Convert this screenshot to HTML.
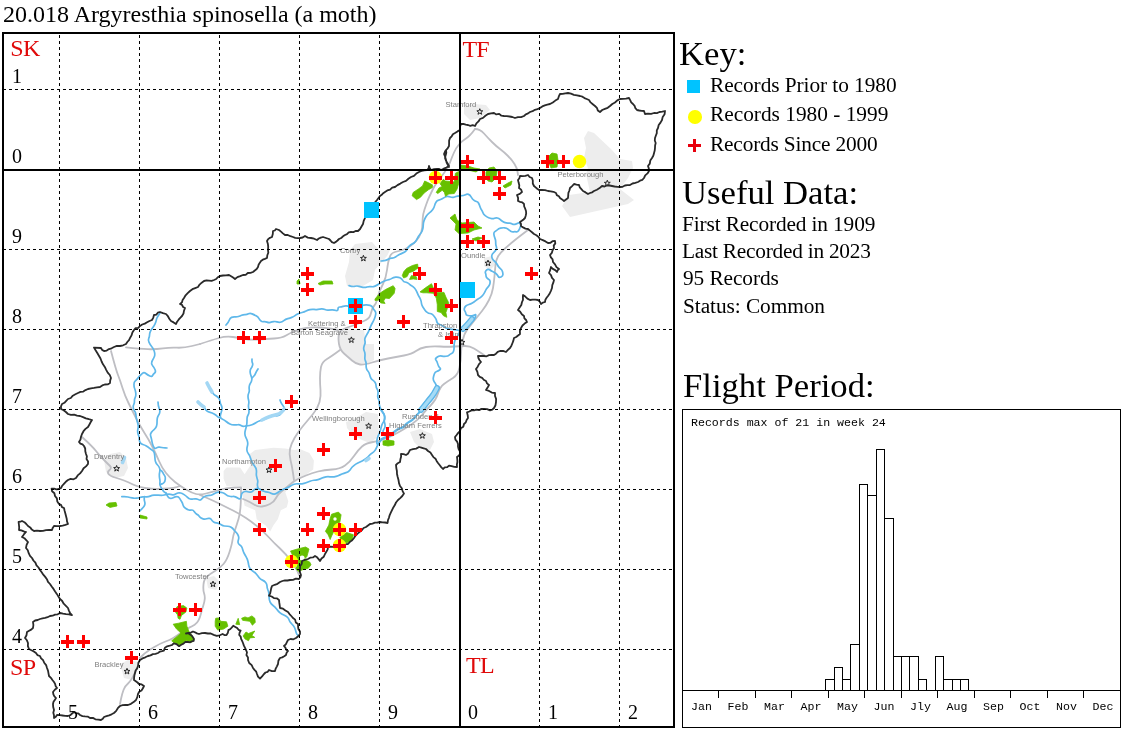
<!DOCTYPE html>
<html><head><meta charset="utf-8"><title>20.018 Argyresthia spinosella</title>
<style>
html,body{margin:0;padding:0;background:#fff;}
body{width:1125px;height:731px;position:relative;overflow:hidden;font-family:"Liberation Serif",serif;color:#000;}
.t{position:absolute;white-space:nowrap;line-height:1;will-change:transform;}
svg{position:absolute;left:0;top:0;will-change:transform;}
.b{fill:none;stroke:#2a2a2a;stroke-width:1.8;stroke-linejoin:round;stroke-linecap:round}
.rv{fill:none;stroke:#5fb8ea;stroke-width:1.7;stroke-linejoin:round;stroke-linecap:round}
.lk{fill:none;stroke:#a3d7f4;stroke-width:3.6;stroke-linejoin:round;stroke-linecap:round}
.lko{fill:none;stroke:#5cb6e8;stroke-width:6;stroke-linejoin:round;stroke-linecap:round}
.lki{fill:none;stroke:#a5dbf6;stroke-width:3.2;stroke-linejoin:round;stroke-linecap:round}
.rd{fill:none;stroke:#bebec3;stroke-width:1.8;stroke-linejoin:round;stroke-linecap:round}
.u{fill:#ededed;stroke:none}
.w{fill:#66c000;stroke:#66c000;stroke-width:0.8;stroke-linejoin:round}
.gd{fill:none;stroke:#000;stroke-width:1;stroke-dasharray:3 3}
.tl{font-family:"Liberation Sans",sans-serif;font-size:7.6px;fill:#7e7e7e}
.st{fill:#e4e4e4;stroke:#262626;stroke-width:1}
.rl{font-family:"Liberation Serif",serif;font-size:24px;fill:#e00a0a;letter-spacing:-0.7px}
.nl{font-family:"Liberation Serif",serif;font-size:20px;fill:#000}
.mo{font-family:"Liberation Mono",monospace;font-size:11.6px;fill:#000}
</style></head><body>
<svg width="1125" height="731" viewBox="0 0 1125 731">
<path class="u" d="M588 131 L594 133 L612 150 L620 159 L632 161 L633 168 L628 178 L622 186 L620 189 L634 200 L628 204 L570 217 L562 206 L569 195 L590 192 L586 174 L588 168 L584 158 L586 148 L584 138Z"/>
<path class="u" d="M464 106 L474 104 L486 105 L490 110 L480 118 L470 120 L464 114Z"/>
<path class="u" d="M355 244 L372 242 L379 250 L391 248 L387 256 L375 270 L373 280 L363 286 L347 286 L345 276 L349 262 L350 250Z"/>
<path class="u" d="M338 330 L348 328 L364 330 L366 344 L374 344 L374 360 L366 364 L356 364 L348 356 L340 350Z"/>
<path class="u" d="M346 422 L352 420 L366 412 L378 414 L379 436 L370 443 L362 440 L352 434 L347 428Z"/>
<path class="u" d="M410 432 L420 429 L432 434 L434 442 L430 450 L420 448 L414 442Z"/>
<path class="u" d="M223.6 471.1 L226.6 467.4 L240.1 467.4 L244.6 474.2 L250.7 465.1 L249.2 454.6 L255.2 450.1 L273.3 447.8 L285.3 448.6 L294.3 450.1 L300.4 449.3 L309.4 453.1 L313.9 460.6 L313.2 469.6 L300.4 478.7 L291.3 484.7 L285.3 492.2 L288.3 501.3 L286.8 507.3 L280.8 510.3 L277.8 519.3 L273.3 525.4 L270.2 531.4 L265.7 525.4 L256.7 519.3 L255.2 510.3 L244.6 505.8 L243.1 498.3 L242.4 487 L226.6 486.2 L223.6 478.7Z"/>
<path class="u" d="M104 460 L110 454 L120 452 L126 458 L128 468 L124 476 L114 478 L106 472Z"/>
<path class="u" d="M120 664 L128 660 L138 662 L137 672 L132 680 L124 678Z"/>
<path class="u" d="M206 578 L214 576 L220 582 L216 590 L208 588Z"/>
<path class="u" d="M484 258 L492 256 L496 264 L490 270 L484 266Z"/>
<path class="rd" d="M434 187 Q429 197 427.5 201 Q426 205 424.5 209.5 Q423 214 422.75 218 Q422.5 222 422.25 227 Q422 232 419 237 Q416 242 411 245.5 Q406 249 402.5 250 Q399 251 395 252 Q391 253 389.5 257.5 Q388 262 387 270 Q386 278 383 284 Q380 290 379 293 Q378 296 377 300 Q376 304 374 306 Q372 308 371 313 Q370 318 366 320 Q362 322 357 324 Q352 326 346 328 Q340 330 339 334 Q338 338 339 344 Q340 350 344 353.5 Q348 357 352 360.5 Q356 364 360 364.5 Q364 365 372 362.5 Q380 360 388 358.5 Q396 357 404 355.5 Q412 354 416 351 Q420 348 426 347 Q432 346 440 346.5 Q448 347 454 346.5 Q460 346 465 346 Q470 346 474 348.5 Q478 351 481 353 L484 355"/>
<path class="rd" d="M475 129 Q480 129 484 133.5 Q488 138 492 142 Q496 146 500 149 Q504 152 508 156 Q512 160 514.5 164 Q517 168 517.5 171.5 L518 175"/>
<path class="rd" d="M475 129 Q470 136 466 138.5 Q462 141 459 144.5 Q456 148 454 152.5 Q452 157 450 162.5 Q448 168 444 173 Q440 178 437 182.5 L434 187"/>
<path class="rd" d="M528 230 Q520 236 515 240 Q510 244 505 248.5 Q500 253 498 256.5 Q496 260 495.5 265 Q495 270 494.5 276 Q494 282 493 288 Q492 294 489 300 Q486 306 482 311 Q478 316 474 321 Q470 326 467 330 Q464 334 462.5 341 Q461 348 461 354 Q461 360 459.5 367.5 Q458 375 453 378 Q448 381 444 384 Q440 387 438 393.5 Q436 400 431 405 Q426 410 422 415 Q418 420 412 424 Q406 428 399 432 Q392 436 386 438.5 Q380 441 373 442 Q366 443 362 446.5 Q358 450 354 456 Q350 462 345 465.5 Q340 469 332 469.5 Q324 470 318 471.5 Q312 473 306 475.5 Q300 478 297 479.5 Q294 481 290 484.5 Q286 488 282 491 Q278 494 276 498 Q274 502 270 504 Q266 506 262 506.5 Q258 507 254 504.5 Q250 502 246.5 500.5 L243 499"/>
<path class="rd" d="M200 344 Q212 340 219 338 Q226 336 233 337 Q240 338 245 339 Q250 340 258 339.5 Q266 339 274 338.5 Q282 338 286 335.5 Q290 333 295 331 Q300 329 306 328 Q312 327 320 327.5 Q328 328 333 329 L338 330"/>
<path class="rd" d="M340 350 Q332 356 327 359 Q322 362 321 367 Q320 372 320 378 Q320 384 320.5 390 Q321 396 319.5 402 Q318 408 313 414 Q308 420 303 426 Q298 432 294.5 438 Q291 444 290 449 Q289 454 290.5 460 Q292 466 293 473 L294 480"/>
<path class="rd" d="M126 347.4 Q140 349 148 349.2 Q156 349.4 163 348.4 Q170 347.4 177 347.7 Q184 348 192 346 L200 344"/>
<path class="rd" d="M111 351 Q116 370 118 375 Q120 380 122.5 388 Q125 396 128.5 403 Q132 410 136 418 Q140 426 144.5 433 Q149 440 152.5 447 Q156 454 159 461 Q162 468 166 473 Q170 478 175 482 Q180 486 186 489.5 Q192 493 196 494 Q200 495 206 493.5 Q212 492 219 490 Q226 488 233.5 487.7 L241 487.4"/>
<path class="rd" d="M200 495 Q212 500 219 503.5 Q226 507 233 510.5 Q240 514 246 518 Q252 522 258 527 Q264 532 269 537.5 Q274 543 280 548.5 Q286 554 291 561 Q296 568 297.5 571.5 L299 575"/>
<path class="rd" d="M241 488 Q241 500 240.5 507 Q240 514 238.5 519 Q237 524 235 530 Q233 536 232.5 540 Q232 544 229.5 552 Q227 560 223.5 564 Q220 568 215 571 Q210 574 207 576.5 Q204 579 203.5 584.5 Q203 590 204 593 Q205 596 204.75 599 Q204.5 602 203.25 605.75 Q202 609.5 201 613.45 Q200 617.4 198.5 620.3 Q197 623.2 194.65 624.7 Q192.3 626.2 189.15 627.6 Q186 629 181.3 632.5 Q176.6 636 173.2 638 Q169.8 640 164.9 641.75 Q160 643.5 153 647.75 Q146 652 143 655 L140 658"/>
<path class="rd" d="M82 437 Q92 446 96 451 Q100 456 104 460 Q108 464 110 466 Q112 468 109.5 470 Q107 472 108.5 474 Q110 476 115 477.5 Q120 479 124 480.5 Q128 482 133 484.5 Q138 487 145 488 Q152 489 157 489 Q162 489 168 488.5 Q174 488 177 487 L180 486"/>
<path class="rd" d="M138 666 Q132 680 128.5 683 Q125 686 123.5 690 Q122 694 121 699 L120 704"/>
<path class="rv" d="M460 195.8 Q457.2 195.9 455.95 196.55 Q454.7 197.2 453.25 197.35 Q451.8 197.5 450.4 197 Q449 196.5 447.6 196.45 Q446.2 196.4 445 197.15 Q443.8 197.9 442.2 198.85 Q440.6 199.8 438.8 200.2 Q437 200.6 436 202.2 Q435 203.8 434.6 205.65 Q434.2 207.5 432.75 209.45 Q431.3 211.4 429.35 212.85 Q427.4 214.3 426.2 216.25 Q425 218.2 424.15 220.35 Q423.3 222.5 423.25 224.95 Q423.2 227.4 422.55 229.75 Q421.9 232.1 420.25 233.95 Q418.6 235.8 417.5 238.05 Q416.4 240.3 415.3 241.75 Q414.2 243.2 412.45 243.9 Q410.7 244.6 409.45 245.85 Q408.2 247.1 407.6 248.45 Q407 249.8 406 250.9 Q405 252 402.9 252.85 Q400.8 253.7 398.9 254.85 Q397 256 395.5 257.05 Q394 258.1 392.05 258.05 Q390.1 258 388.55 259 Q387 260 385.55 260.4 Q384.1 260.8 382.55 260.9 L381 261"/>
<path class="rv" d="M349 285.6 Q352.9 286.9 355 286.3 Q357.1 285.7 359.05 286.35 Q361 287 363 287.35 Q365 287.7 367 287 Q369 286.3 371 286.65 Q373 287 375 286.1 Q377 285.2 378.85 284 Q380.7 282.8 382.35 281.95 Q384 281.1 385.75 280.5 Q387.5 279.9 389.05 279.6 Q390.6 279.3 391.9 278.4 Q393.2 277.5 395.6 277.15 Q398 276.8 399.9 277.85 Q401.8 278.9 402.75 280.35 Q403.7 281.8 404.95 282 Q406.2 282.2 407.35 282.75 Q408.5 283.3 409.6 284.3 Q410.7 285.3 412 285.95 Q413.3 286.6 414.45 287.95 Q415.6 289.3 416.35 290.85 Q417.1 292.4 417.7 293.9 Q418.3 295.4 419.15 296.75 Q420 298.1 420.65 299.7 Q421.3 301.3 421.4 303.05 Q421.5 304.8 422.7 306.7 Q423.9 308.6 424.85 310 Q425.8 311.4 427.2 312.4 Q428.6 313.4 429.95 313.5 Q431.3 313.6 432.35 314.45 Q433.4 315.3 434.85 317.25 Q436.3 319.2 436.5 320.5 Q436.7 321.8 437.45 322.9 Q438.2 324 439.8 324.45 Q441.4 324.9 442.7 325.95 Q444 327 445.9 327.9 Q447.8 328.8 449.9 329.15 Q452 329.5 454.05 329.55 Q456.1 329.6 458.05 330.3 L460 331"/>
<path class="rv" d="M460 195.8 Q464 195.5 465.5 194.65 Q467 193.8 468.5 194.4 Q470 195 471.25 197.1 Q472.5 199.2 473.75 200.15 Q475 201.1 476.5 201.55 Q478 202 478.75 203.5 Q479.5 205 480.1 206.9 Q480.7 208.8 481.6 210.05 Q482.5 211.3 482.95 212.8 Q483.4 214.3 485.2 215.65 Q487 217 488.65 217.7 Q490.3 218.4 491.75 218.65 Q493.2 218.9 494.5 218.3 Q495.8 217.7 497.35 218 Q498.9 218.3 500.05 219.4 Q501.2 220.5 502.75 221.55 Q504.3 222.6 506.15 222.9 Q508 223.2 509.45 223.2 Q510.9 223.2 512.2 223.9 Q513.5 224.6 514.95 224.3 Q516.4 224 517.7 223.25 Q519 222.5 520 223.75 Q521 225 520.7 225.8 Q520.4 226.6 519.9 228.05 Q519.4 229.5 518.5 230.8 Q517.6 232.1 516.25 231.85 Q514.9 231.6 513.55 231.85 Q512.2 232.1 510.7 231.2 Q509.2 230.3 507.95 229.15 Q506.7 228 504.6 227.8 Q502.5 227.6 500.5 228.15 Q498.5 228.7 497.45 229.75 Q496.4 230.8 495.05 231.45 Q493.7 232.1 493.85 234.05 Q494 236 494.9 238.15 Q495.8 240.3 495.7 242.4 Q495.6 244.5 496.3 246.5 Q497 248.5 495.95 250.05 Q494.9 251.6 493.45 252.8 Q492 254 491.8 255.55 Q491.6 257.1 492.3 258.55 Q493 260 494.55 261.25 Q496.1 262.5 497.05 264.25 Q498 266 498.9 267.1 Q499.8 268.2 500.9 269.1 Q502 270 502.45 271.45 Q502.9 272.9 502.95 274.45 Q503 276 501 277 Q499 278 498.1 276.25 Q497.2 274.5 495.6 273.25 Q494 272 492.6 271.5 Q491.2 271 490.1 270 Q489 269 487.75 269.4 Q486.5 269.8 485.75 270.9 Q485 272 485.5 273.2 Q486 274.4 486 275.7 Q486 277 486.9 277.9 Q487.8 278.8 488.9 279.4 Q490 280 490.1 281.55 Q490.2 283.1 489.6 284.55 Q489 286 487.7 287.3 Q486.4 288.6 485.7 290.3 Q485 292 483.95 293.65 Q482.9 295.3 481.45 296.65 Q480 298 478.4 298.85 Q476.8 299.7 475.4 300.85 Q474 302 472.35 303 Q470.7 304 468.85 304.5 Q467 305 465.85 306 Q464.7 307 464.35 308.5 Q464 310 464.85 311.1 Q465.7 312.2 465.85 313.6 Q466 315 467.7 315.45 Q469.4 315.9 471.2 315.95 Q473 316 474.5 315 Q476 314 475.7 315.55 Q475.4 317.1 474.7 318.55 Q474 320 472.4 320.6 Q470.8 321.2 469.4 322.1 Q468 323 467.15 324.35 Q466.3 325.7 465.15 326.85 Q464 328 462.75 328.45 Q461.5 328.9 460.75 329.95 Q460 331 459.2 332.85 Q458.4 334.7 457.2 336.35 Q456 338 455.2 339.9 Q454.4 341.8 454.2 343.9 Q454 346 454.05 347.8 Q454.1 349.6 453.55 351.3 Q453 353 451.65 353.55 Q450.3 354.1 449.15 355.05 Q448 356 446 356.25 Q444 356.5 442 356.05 Q440 355.6 438.65 356.3 Q437.3 357 436.15 358 Q435 359 436.05 360.35 Q437.1 361.7 437.55 363.35 Q438 365 438.6 366.1 Q439.2 367.2 440.1 368.1 Q441 369 439.6 370 Q438.2 371 436.6 371.5 Q435 372 434.3 373.95 Q433.6 375.9 433.3 377.95 Q433 380 434.2 381.65 Q435.4 383.3 436.2 385.15 Q437 387 435.85 388.6 Q434.7 390.2 434.35 392.1 Q434 394 432.8 395.8 Q431.6 397.6 429.8 398.8 Q428 400 426.55 401.35 Q425.1 402.7 424.05 404.35 Q423 406 422.1 408.2 Q421.2 410.4 419.6 412.2 Q418 414 416.5 415.2 Q415 416.4 414 418.05 Q413 419.7 411.5 420.85 Q410 422 408.1 422.65 Q406.2 423.3 404.95 424.95 Q403.7 426.6 401.85 427.3 Q400 428 397.9 429.1 Q395.8 430.2 393.9 431.6 Q392 433 390.25 434.65 Q388.5 436.3 386.25 437.15 Q384 438 382.35 439.35 Q380.7 440.7 379.35 442.35 Q378 444 377.2 446.1 Q376.4 448.2 375.2 450.1 Q374 452 372.25 452.95 Q370.5 453.9 369.25 455.45 Q368 457 366.15 458.45 Q364.3 459.9 362.15 460.95 Q360 462 357.85 463.05 Q355.7 464.1 353.85 465.55 Q352 467 351.15 468.35 Q350.3 469.7 349.15 470.85 Q348 472 345.95 472.6 Q343.9 473.2 341.95 474.1 Q340 475 338.1 475.8 Q336.2 476.6 334.1 476.8 Q332 477 330 476.8 Q328 476.6 326 476.8 Q324 477 322.1 478.05 Q320.2 479.1 318.1 479.55 Q316 480 313.95 480.25 Q311.9 480.5 309.95 481.25 Q308 482 306.05 482.8 Q304.1 483.6 302.05 483.8 Q300 484 297.95 483.8 Q295.9 483.6 293.95 484.3 Q292 485 290.15 486.25 Q288.3 487.5 286.15 488.25 Q284 489 281.85 490 Q279.7 491 277.85 492.5 Q276 494 274.25 494.05 Q272.5 494.1 270.95 493.2 Q269.4 492.3 267.7 492.15 Q266 492 263.9 491.2 Q261.8 490.4 259.9 489.2 Q258 488 256.25 488.6 Q254.5 489.2 253.25 490.55 Q252 491.9 250.55 492.1 Q249.1 492.3 247.75 491.75 Q246.4 491.2 245.1 491.5 Q243.8 491.8 242.7 492.55 Q241.6 493.3 241.45 494.85 Q241.3 496.4 240.75 497.9 Q240.2 499.4 238.5 498.4 Q236.8 497.4 235.45 496.85 Q234.1 496.3 232.7 496.5 Q231.3 496.7 229.4 496.25 Q227.5 495.8 226 494.55 Q224.5 493.3 222.8 492.75 Q221.1 492.2 219.35 492.05 Q217.6 491.9 215.55 492.95 Q213.5 494 212.25 494.75 Q211 495.5 209.5 495.4 Q208 495.3 205.65 496 Q203.3 496.7 201.9 498.75 Q200.5 500.8 199.1 499.9 Q197.7 499 196.05 498.85 Q194.4 498.7 193.05 499.05 Q191.7 499.4 190.3 499.05 Q188.9 498.7 187.55 497.35 Q186.2 496 184.1 494.65 Q182 493.3 180.65 493 Q179.3 492.7 177.95 493 Q176.6 493.3 175.2 494.3 Q173.8 495.3 171.75 494.65 Q169.7 494 167.65 494.3 Q165.6 494.6 164.25 494.95 Q162.9 495.3 161.55 495.3 Q160.2 495.3 158.15 495.15 Q156.1 495 154.05 495.15 Q152 495.3 150.2 496.1 Q148.4 496.9 146.4 496.8 Q144.4 496.7 142.85 496.8 Q141.3 496.9 139.8 497.45 Q138.3 498 136.2 498.2 Q134.1 498.4 132.05 497.9 Q130 497.4 127.95 497 Q125.9 496.6 123.85 496.65 L121.8 496.7"/>
<path class="rv" d="M226 325 Q228.7 321.9 229.35 319.95 Q230 318 231.6 317.35 Q233.2 316.7 235 316.9 Q236.8 317.1 238.4 316.55 Q240 316 241.6 315.3 Q243.2 314.6 245.05 314.65 Q246.9 314.7 248.45 313.85 Q250 313 252.1 313.85 Q254.2 314.7 256.1 315.85 Q258 317 258.85 318.4 Q259.7 319.8 260.85 320.9 Q262 322 263.65 321.7 Q265.3 321.4 267 322.1 Q268.7 322.8 270.35 322.4 Q272 322 273.65 321.65 Q275.3 321.3 277 321.9 Q278.7 322.5 280.35 322.25 Q282 322 283.8 320.6 Q285.6 319.2 287.8 318.6 Q290 318 291.75 317.35 Q293.5 316.7 295 315.55 Q296.5 314.4 298.25 313.7 Q300 313 302.1 312.45 Q304.2 311.9 306.1 310.95 Q308 310 310 309.55 Q312 309.1 314 309.4 Q316 309.7 318 309.35 Q320 309 321.7 308.95 Q323.4 308.9 325 309.55 Q326.6 310.2 328.3 310.1 Q330 310 332.05 309.95 Q334.1 309.9 336.05 310.45 Q338 311 338 309 Q338 307 339.7 307 Q341.4 307 343 306.4 Q344.6 305.8 346.3 305.9 Q348 306 350.05 306.3 Q352.1 306.6 354 305.6 Q355.9 304.6 357.95 305.25 Q360 305.9 362 305.45 Q364 305 366.05 304.9 Q368.1 304.8 370.05 305.4 Q372 306 372.75 307.7 Q373.5 309.4 374.75 310.7 Q376 312 375.7 314.05 Q375.4 316.1 374.7 318.05 Q374 320 372.85 321.95 Q371.7 323.9 370.85 325.95 Q370 328 369.15 330.05 Q368.3 332.1 367.15 334.05 Q366 336 365.25 337.6 Q364.5 339.2 364.95 341 Q365.4 342.8 364.7 344.4 Q364 346 363.75 347.7 Q363.5 349.4 364.25 351 Q365 352.6 365 354.3 Q365 356 364.85 357.7 Q364.7 359.4 365.5 361 Q366.3 362.6 366.15 364.3 Q366 366 366.3 367.8 Q366.6 369.6 367.85 371.05 Q369.1 372.5 369.55 374.25 Q370 376 370.65 377.6 Q371.3 379.2 372.8 380.15 Q374.3 381.1 375.15 382.55 Q376 384 376.05 385.75 Q376.1 387.5 377.1 389 Q378.1 390.5 378.05 392.25 Q378 394 377.75 395.7 Q377.5 397.4 378.45 399 Q379.4 400.6 379.2 402.3 Q379 404 379.7 406.15 Q380.4 408.3 381.7 410.15 Q383 412 383.9 413.9 Q384.8 415.8 384.9 417.9 Q385 420 383.6 421.8 Q382.2 423.6 381.6 425.8 Q381 428 380.5 430.1 Q380 432.2 379 434.1 Q378 436 377.4 437.95 Q376.8 439.9 376.9 441.95 L377 444"/>
<path class="rv" d="M425 402 Q422.6 405 422.5 407 Q422.4 409 421.2 410.5 Q420 412 418.45 413.15 Q416.9 414.3 416.05 416.1 Q415.2 417.9 413.6 418.95 Q412 420 410.1 421 Q408.2 422 406.95 423.9 Q405.7 425.8 403.85 426.9 Q402 428 400.1 428.7 Q398.2 429.4 396.6 430.7 Q395 432 393.4 433.45 Q391.8 434.9 389.9 435.95 Q388 437 386.15 437.2 Q384.3 437.4 382.65 438.2 L381 439"/>
<path class="rv" d="M380 408 Q381.4 411.4 382.7 412.7 Q384 414 384.35 415.65 Q384.7 417.3 384.35 419 Q384 420.7 384.5 422.35 Q385 424 385.1 425.75 Q385.2 427.5 384.05 429 Q382.9 430.5 382.95 432.25 L383 434"/>
<path class="rv" d="M252 359 Q251.8 361.6 252.4 362.8 Q253 364 252.5 365.6 Q252 367.2 251 368.6 Q250 370 250.15 372.1 Q250.3 374.2 251.15 376.1 Q252 378 251.8 379.75 Q251.6 381.5 250.55 383 Q249.5 384.5 249.25 386.25 Q249 388 249.25 389.7 Q249.5 391.4 248.75 393 Q248 394.6 248 396.3 Q248 398 248.55 399.95 Q249.1 401.9 248.7 403.95 Q248.3 406 248.65 408 Q249 410 249 411.75 Q249 413.5 248.05 415.05 Q247.1 416.6 247.05 418.3 Q247 420 246.95 422.05 Q246.9 424.1 246.45 426.05 Q246 428 245.4 429.95 Q244.8 431.9 244.9 433.95 Q245 436 246.05 437.9 Q247.1 439.8 247.55 441.9 Q248 444 247.4 445.95 Q246.8 447.9 246.9 449.95 Q247 452 248.4 453.8 Q249.8 455.6 250.4 457.8 Q251 460 252.05 462.1 Q253.1 464.2 254.55 466.1 Q256 468 256.3 469.65 Q256.6 471.3 256.4 473 Q256.2 474.7 256.6 476.35 Q257 478 257.5 479.65 Q258 481.3 257.6 483 Q257.2 484.7 257.6 486.35 L258 488"/>
<path class="rv" d="M258 369 Q256.1 371.8 255.55 373.4 Q255 375 253.5 376.5 L252 378"/>
<path class="rv" d="M207 383 Q207.9 386.4 209.4 387.55 Q210.9 388.7 211.45 390.35 Q212 392 213.15 393.55 Q214.3 395.1 216.1 395.9 Q217.9 396.7 218.95 398.35 Q220 400 220.1 401.7 Q220.2 403.4 221.1 404.95 Q222 406.5 222 408.25 Q222 410 221.3 411.95 Q220.6 413.9 220.3 415.95 Q220 418 222.15 419 Q224.3 420 226.15 421.5 Q228 423 229.9 423.9 Q231.8 424.8 233.9 424.9 Q236 425 237.7 424.75 Q239.4 424.5 241 425.5 Q242.6 426.5 244.3 426.25 L246 426"/>
<path class="rv" d="M198 402 Q201 405 202.5 406 Q204 407 204.8 408.4 Q205.6 409.8 206.8 410.9 Q208 412 210.1 412.45 Q212.2 412.9 214.1 413.95 Q216 415 216.85 415.95 Q217.7 416.9 218.85 417.45 L220 418"/>
<path class="rv" d="M246 426 Q250.1 425.4 252.05 424.7 Q254 424 255.85 422.75 Q257.7 421.5 259.85 420.75 Q262 420 264.2 419.35 Q266.4 418.7 268.2 417.35 Q270 416 271.65 415.45 Q273.3 414.9 275 415.5 Q276.7 416.1 278.35 415.55 Q280 415 280.95 413.45 Q281.9 411.9 283.45 410.95 Q285 410 284.4 408.25 Q283.8 406.5 282.55 405 Q281.3 403.5 280.65 401.75 L280 400"/>
<path class="rv" d="M160 313 Q158 316 157.25 317.4 Q156.5 318.8 156.25 320.4 Q156 322 154.95 324.1 Q153.9 326.2 152.45 328.1 Q151 330 150.3 331.6 Q149.6 333.2 149.55 335 Q149.5 336.8 148.75 338.4 Q148 340 148.95 342.2 Q149.9 344.4 151.45 346.2 Q153 348 153.8 349.95 Q154.6 351.9 154.8 353.95 Q155 356 153.8 357.9 Q152.6 359.8 151.8 361.9 Q151 364 152.6 365.8 Q154.2 367.6 155.1 369.8 Q156 372 154.65 372.95 Q153.3 373.9 152.65 375.45 Q152 377 149.85 376 Q147.7 375 145.85 373.5 Q144 372 142.4 373.4 Q140.8 374.8 139.4 376.4 Q138 378 137.1 379.1 Q136.2 380.2 135.1 381.1 Q134 382 133.95 384.4 Q133.9 386.8 134.8 389.05 Q135.7 391.3 135.85 393.65 Q136 396 135.15 397.55 Q134.3 399.1 134.45 401 Q134.6 402.9 133.8 404.45 Q133 406 133.25 407.75 Q133.5 409.5 134.6 410.95 Q135.7 412.4 135.85 414.2 Q136 416 136.35 418.05 Q136.7 420.1 137.35 422.05 Q138 424 138.2 425.65 Q138.4 427.3 137.9 429 Q137.4 430.7 137.7 432.35 Q138 434 138.65 435.6 Q139.3 437.2 139.25 439.05 Q139.2 440.9 140.1 442.45 Q141 444 142.85 444.55 Q144.7 445.1 146.35 446.05 Q148 447 149.4 448.15 Q150.8 449.3 152.4 450.15 Q154 451 154.4 453.25 Q154.8 455.5 154.9 457.75 Q155 460 155.55 461.8 Q156.1 463.6 157.55 465 Q159 466.4 159.6 468.2 Q160.2 470 159.7 472 Q159.2 474 159.35 476.1 Q159.5 478.2 159.85 479.9 Q160.2 481.6 159.85 483.35 Q159.5 485.1 160.85 487.15 Q162.2 489.2 162.95 490.5 Q163.7 491.8 165 492.55 L166.3 493.3"/>
<path class="rv" d="M158 402 Q158.2 406.2 159.1 408.1 Q160 410 159.85 411.75 Q159.7 413.5 158.65 415 Q157.6 416.5 157.3 418.25 Q157 420 157.05 422.05 Q157.1 424.1 156.55 426.05 Q156 428 154.35 429.35 Q152.7 430.7 151.35 432.35 Q150 434 150.65 435.95 Q151.3 437.9 151.65 439.95 Q152 442 152.5 443.85 Q153 445.7 154 447.35 Q155 449 156.1 448.15 Q157.2 447.3 158.6 447.15 Q160 447 161.7 447.45 Q163.4 447.9 165.2 447.95 L167 448"/>
<path class="rv" d="M160.2 470 Q162.2 471 162.85 472.55 Q163.5 474.1 164.55 475.45 Q165.6 476.8 165.3 479.2 Q165 481.6 164.1 482.5 Q163.2 483.4 162 483.9 L160.8 484.4"/>
<path class="rv" d="M144.4 496.7 Q144 499.8 144.55 501.3 Q145.1 502.8 144.9 504.1 Q144.7 505.4 143.9 506.5 Q143.1 507.6 141.35 509.35 L139.6 511.1"/>
<path class="rv" d="M166.3 493.3 Q167.7 497.4 169.4 498.05 Q171.1 498.7 173.15 497.7 Q175.2 496.7 176.9 496.7 Q178.6 496.7 179.65 498.4 Q180.7 500.1 181.7 501.8 Q182.7 503.5 183.05 505.2 Q183.4 506.9 185.45 508.3 Q187.5 509.7 188.85 510.05 Q190.2 510.4 191.6 510.05 Q193 509.7 194.35 511.75 Q195.7 513.8 196.95 514.35 Q198.2 514.9 199 516.05 Q199.8 517.2 201.1 518 Q202.4 518.8 203.85 519.05 Q205.3 519.3 206.65 518.75 Q208 518.2 209.4 518.4 Q210.8 518.6 211.55 519.9 Q212.3 521.2 213.6 521.95 Q214.9 522.7 216.3 522.9 Q217.7 523.1 219.05 523.6 Q220.4 524.1 221.65 525 Q222.9 525.9 224.4 526 Q225.9 526.1 227.7 526.25 Q229.5 526.4 231.1 527.3 Q232.7 528.2 233.6 529.5 Q234.5 530.8 235.65 531.9 Q236.8 533 237.6 534.25 Q238.4 535.5 238.65 536.95 Q238.9 538.4 238.4 539.75 Q237.9 541.1 238.05 542.5 Q238.2 543.9 239.5 544.65 Q240.8 545.4 241.55 546.7 Q242.3 548 242.75 549.8 Q243.2 551.6 244.1 553.25 Q245 554.9 246.15 556.85 Q247.3 558.8 247.85 560.95 Q248.4 563.1 248.65 564.95 Q248.9 566.8 249.95 568.4 Q251 570 253 571.2 Q255 572.4 256.5 574.2 Q258 576 259.2 577.65 Q260.4 579.3 262.4 580.1 Q264.4 580.9 265.7 582.45 Q267 584 267 586.05 Q267 588.1 267.9 590 Q268.8 591.9 268.9 593.95 Q269 596 269.15 598.1 Q269.3 600.2 270.15 602.1 Q271 604 273.05 605.45 Q275.1 606.9 276.55 608.95 Q278 611 279.8 612.55 Q281.6 614.1 283.8 615.05 Q286 616 287.3 617.1 Q288.6 618.2 289.15 619.9 Q289.7 621.6 290.85 622.8 Q292 624 293.4 625.8 Q294.8 627.6 295.4 629.8 Q296 632 296.4 633.25 Q296.8 634.5 297.9 635.25 L299 636"/>
<path class="lk" d="M124.5 457.5 Q123.5 460 123 461.25 L122.5 462.5"/>
<path class="lk" d="M262 420 Q270 416 275 415 Q280 414 282 411.5 L284 409"/>
<path class="lk" d="M207 383 Q209 387 210.5 389.5 L212 392"/>
<path class="lk" d="M198 402 Q201 405 202.5 406 L204 407"/>
<path class="lk" d="M366 460.5 L369 458.5"/>
<path class="lko" d="M437 388 Q434 394 431.5 397 Q429 400 427 402.5 Q425 405 423 407.5 L421 410"/>
<path class="lki" d="M437 388 Q434 394 431.5 397 Q429 400 427 402.5 Q425 405 423 407.5 L421 410"/>
<path class="lko" d="M472 319 Q468 324 465.5 326.5 L463 329"/>
<path class="lki" d="M472 319 Q468 324 465.5 326.5 L463 329"/>
<path class="w" d="M412.1 195.7 L413.2 192.4 L418.1 189.2 L422.5 185.9 L424.7 181 L428 182.6 L432.4 184.8 L432.4 187.5 L428.5 189.7 L424.2 193 L420.3 197.4 L416.5 199.6Z"/>
<path class="w" d="M436.2 192.4 L438.9 188 L442.2 186.4 L440 183.7 L443.3 179.3 L445.5 181 L454.3 182 L455.4 173.3 L458.6 171.6 L458.6 183.7 L457 189.2 L454.3 193.5 L448.8 194 L445.5 196.3 L444.4 192.4 L442.2 190.3 L437.8 193.5Z"/>
<path class="w" d="M549 156 L552 153 L557 154 L558 160 L557 167 L551 168 L549 163Z"/>
<path class="w" d="M461 165 L468 166 L474 168 L480 169 L476 172 L468 170 L461 169Z"/>
<path class="w" d="M486 172 L489 168 L494 167 L497 171 L496 178 L492 182 L488 181 L486 177Z"/>
<path class="w" d="M503 186 L508 183 L512 181 L511 185 L505 188Z"/>
<path class="w" d="M450 218 L455 214 L457 220 L462 223 L474 222 L478 226 L482 228 L474 230 L468 233 L459 233.6 L455 230 L456 224Z"/>
<path class="w" d="M472 239 L478 237 L482 238 L476 241Z"/>
<path class="w" d="M402.3 275.6 L403.7 271.8 L406.6 268.4 L412.4 265.5 L417.6 264.1 L418.1 267.9 L413.3 271.3 L409 272.7 L407.1 276.6 L403.7 278Z"/>
<path class="w" d="M409.5 279.4 L411.4 275.6 L416.2 276.6 L417.1 279.4 L413.3 279Z"/>
<path class="w" d="M375 299 L379.8 293.3 L385.5 289.5 L393.2 285.7 L395.1 288.5 L394.2 293.3 L389.4 298.6 L385.5 298.1 L383.6 301 L385.1 303.4 L380.7 302.9 L379.3 300 L375 300.5Z"/>
<path class="w" d="M420 291.9 L425.8 287.6 L431.5 283.7 L432.9 287.1 L436.3 292.4 L444 292.4 L445.9 297.1 L448.8 302.9 L447.3 308.6 L445.9 312.5 L446.8 317.3 L443.5 315.8 L441.1 312.5 L437.3 311.5 L437.3 304.8 L436.3 298.1 L433.4 293.3 L426.7 292.8 L422.9 292.8Z"/>
<path class="w" d="M318 283.6 L323 281 L332 281 L333 284 L325 284 L320 285Z"/>
<path class="w" d="M297 281 L299 279 L300 284 L297 284Z"/>
<path class="w" d="M331.6 514.2 L338.4 512.1 L341.1 514.8 L339.8 522.4 L335.7 523.7 L334.3 530.6 L331.6 536 L330.2 539.5 L328.1 534.7 L325.4 531.3 L328.8 525.1 L330.2 518.3Z"/>
<path class="w" d="M339.8 537.4 L346.6 532.6 L353.4 534.7 L352.1 540.1 L346.6 542.9 L341.8 540.8Z"/>
<path class="w" d="M290.5 551.1 L297.4 549 L305.6 547 L309 549 L306.9 556.6 L304.2 559.3 L309.7 562 L311 564.8 L308.3 568.2 L302.8 569.6 L298.7 571.6 L296 568.9 L298 563.4 L295.3 556.6 L292.6 555.2Z"/>
<path class="w" d="M383 441 L388 440 L394 441 L394 445 L388 446 L383 445Z"/>
<path class="w" d="M106 505 L109 503 L116 502.4 L117 506 L110 507.4Z"/>
<path class="w" d="M140 515 L147 517 L147 519 L140 518Z"/>
<path class="w" d="M174.7 611 L177.1 606.6 L183.5 605.6 L186.9 608.1 L185.9 612 L181.5 615.4 L180 619.3 L178.1 618.3 L177.6 614.9Z"/>
<path class="w" d="M173.2 624.2 L178.6 623.2 L186.4 621.3 L186.9 626.2 L188.8 631.1 L192.3 635.9 L194.2 639.9 L191.3 642.3 L186.4 640.8 L179.6 646.2 L174.7 643.3 L171.7 640.8 L177.1 636.4 L181 633 L176.6 629.1Z"/>
<path class="w" d="M215.7 618.3 L218.7 617.9 L220.6 621.3 L226.5 621.8 L227.9 626.2 L223.5 629.1 L217.7 630.1 L215.2 626.2 L215.2 621.3Z"/>
<path class="w" d="M235.8 624.2 L238.2 618.3 L239.7 624.7Z"/>
<path class="w" d="M241.6 618.3 L245 616.9 L248 617.9 L251.9 615.9 L254.8 618.3 L255.3 622.3 L252.4 625.2 L249.9 621.3 L246 620.8 L242.6 620.3Z"/>
<path class="w" d="M243.1 635.9 L246 632 L248.5 633.5 L254.8 631 L251.9 635.4 L254.8 637.4 L249.9 637.9 L248.5 640.8 L245 638.9Z"/>
<circle cx="302.1" cy="557.9" r="2.5" fill="#fff"/>
<circle cx="335" cy="519" r="1.7" fill="#fff"/>
<path class="b" d="M449 167 L447.8 164.8 L446.6 162.5 L446 160 L445.2 156.9 L444 154 L445.2 151 L447.4 148.7 L449 146 L449.1 143.3 L449.1 140.6 L450 138 L451.7 136.3 L452.9 134.2 L455 133 L457.5 131.4 L460 130 L459.9 126.9 L461 124 L463.4 123.8 L465.7 124.6 L468 125 L470.3 125.8 L472.7 125.1 L475 126 L476.4 123.4 L478.5 121.4 L480 119 L483 117.9 L485.4 115.8 L488 114 L491 113.4 L494 113 L496.3 114.4 L499.2 113.9 L501.4 115.7 L504 116 L506.8 116.2 L509.6 116.5 L512.3 117 L515 118 L517.9 117.1 L521.1 117.1 L524 116 L525.8 114.3 L528.1 113.4 L530 112 L532.6 111.2 L534.9 109.8 L537.5 109.1 L540 108 L542.3 106.4 L544.8 105.4 L547.3 104.6 L550 104 L552.8 102.5 L555.3 100.6 L558 99 L558.8 96.4 L560 94 L562.7 93.8 L565.3 93.3 L568 93 L571 93.6 L573.9 94.8 L577 95.4 L580 96 L582.4 96.7 L584.5 98.1 L586.7 99 L589 100 L590.6 102.4 L592.8 104.2 L595 106 L596.9 107.8 L597.8 110.4 L600 112 L602.2 110 L604.9 108.9 L607.7 107.8 L610 106 L612.3 104 L615 102.5 L617.3 100.4 L620 99 L623 98.9 L626 98.7 L629 98 L630.2 100.1 L631.2 102.3 L633 104 L634.6 105.9 L635.4 108.2 L637 110 L639.3 110.5 L641.7 110.8 L644 111 L645 114 L648 113.6 L651.1 113.8 L654 113 L656.9 113.1 L659.5 112 L662.3 111.7 L665 111 L664.6 114.2 L662.7 116.9 L662 120 L660.5 122.6 L658.7 125 L658 128 L656.8 130.4 L656.8 133.1 L655.9 135.5 L655 138 L654.8 140.5 L655.7 143 L655.1 145.5 L655 148 L654.7 150.6 L654 153.2 L653.3 155.7 L652 158 L650.3 160.5 L649.8 163.6 L648 166 L648.8 168.4 L649 171 L647.5 173.4 L645.2 175.4 L644 178 L642.3 179.8 L640 180.7 L638 182 L635.3 182.9 L632.5 183.5 L630 185 L627.4 185.1 L624.9 185.5 L622.6 186.8 L620 187 L617.3 186.8 L614.6 186.5 L612 186 L609.5 185.5 L607 185.4 L604.5 186.5 L602 186 L599.6 188.1 L596.9 189.7 L594 191 L592.2 192.3 L590 193 L588 194 L585.6 192.4 L583 191 L581.4 189.2 L579.8 187.4 L579 185 L576.5 184.6 L574 184 L572.1 186.1 L570 188 L569.4 190.5 L568.4 192.9 L568.2 195.4 L568 198 L566 199.5 L564 201 L562.1 199.4 L560 198 L558.9 196.2 L556.8 195.1 L556 193 L553.5 191.8 L550.8 191.3 L548 191 L545.1 190.1 L542 189.9 L539 190 L537.2 188.8 L535.6 187.4 L534 186 L532.8 183.5 L532.8 180.6 L532 178 L529.6 177 L528 175 L525.4 175.9 L522.7 176.1 L520 176 L519.4 178.2 L518 180 L518.6 182.6 L519.3 185.3 L519 188 L521.1 189.6 L522 192 L519.8 193.9 L517 195 L518.1 197.9 L518 201 L520.1 201.8 L522.3 202.4 L524 204 L524.2 206.5 L525.2 208.7 L526 211 L526.2 213.4 L525.7 215.7 L525 218 L523.5 219.5 L521.8 220.8 L520 222 L521 223.9 L521 226 L523.1 227.4 L525.4 228.6 L528 229 L530 230.6 L532 232.3 L534 234 L536.4 235.2 L538.4 236.9 L540 239 L542.8 240.1 L545.5 241.4 L548 243 L550.5 242.8 L552.5 241.2 L555 241 L555.3 243.4 L553.7 245.6 L554 248 L552.6 250.3 L551.8 252.9 L550 255 L550.9 257.4 L552.6 259.4 L553 262 L555 264.4 L556.5 267.1 L559 269 L557.6 270.2 L557 272 L555.2 270.1 L552.8 268.9 L551 267 L550.2 270.1 L549 273 L551 275.1 L552 277.9 L554 280 L553.3 282.7 L552.3 285.2 L552 288 L550.9 290.8 L549.7 293.5 L548 296 L546.6 297.8 L545.4 299.7 L545 302 L542.8 302.6 L541 304 L539.8 301.7 L538 300 L535.3 299.6 L532.7 299.7 L530 300 L527.4 298.6 L525.3 296.6 L523 295 L522.9 297.4 L523 299.8 L522 302 L521.3 305 L519.6 307.5 L518 310 L520.2 311.8 L521.8 314.2 L524 316 L524.4 318.3 L526.1 320 L527 322 L524.6 323.6 L522.5 325.5 L521 328 L519.9 330.9 L520 334 L518.1 335.5 L516.2 337 L514 338 L513.4 340.6 L512.4 343.2 L511.4 345.7 L510 348 L507.9 349.9 L506 352 L503.1 350.9 L500 351 L497.7 351.9 L496 353.7 L494 355 L491.5 355 L489 355.1 L486.6 356.3 L484 356 L481 355.8 L478 356 L478.5 358.3 L479.6 360.2 L481 362 L479 364.1 L477.7 366.7 L476 369 L477.4 371.9 L478 375 L479.8 376.8 L482.1 377.8 L483.7 379.8 L486 381 L487 383.4 L489 385 L487.6 387.6 L486 390 L489 390.9 L491.8 392.6 L495 393 L495 396 L496.1 398.9 L496 402 L495.5 405.2 L494 408 L492.3 409.6 L490 410.4 L487.1 409.1 L484 409 L481.4 408.9 L479.1 410.2 L476.4 409.6 L474 410.4 L471.5 410.4 L469.3 411.5 L467 412.4 L467.7 415.2 L468 418 L466.6 420 L465.8 422.3 L464 424 L463.3 426.7 L460.8 428.3 L460 431 L458.2 432.9 L456.6 435 L455 437 L455.4 439.6 L457.1 441.6 L458 444 L458 446.6 L458.6 449.1 L459.9 451.4 L460 454 L458.7 455.7 L457 457 L457.3 459.5 L457.4 462 L456.9 464.5 L457 467 L454.3 466.9 L451.6 466.2 L449 465.6 L447.3 467.2 L444.7 467.4 L443 469 L441.2 467.1 L439.6 465 L438 463 L436.6 460.9 L435.5 458.7 L433.4 457.1 L432 455 L430.4 452.6 L428 451 L426 449 L423.7 448.3 L421.3 447.6 L419 447 L416.2 448.6 L413 449.1 L410 450 L409 451.9 L407.9 453.8 L406 455 L403.6 454.1 L401 454 L401.1 456.7 L400.4 459.3 L400 462 L397.8 463.2 L396 465 L396.3 468 L396.9 471 L397 474 L397.7 477 L398.5 480 L399 483.1 L400 486 L401.8 488.3 L402.6 491.1 L404 493.6 L402.3 496 L400.2 498.1 L398 500 L396 502.5 L394.7 505.3 L393 508 L391.9 510.4 L390.8 512.7 L389.7 515.1 L389 517.6 L388 520 L387.6 523 L385.1 522.5 L382.5 522.3 L380 522 L377.5 522.5 L374.9 522.7 L372.5 523.6 L370 524 L368 525.5 L366 527 L363.6 528 L362 530 L359.8 531.8 L357.6 533.6 L355.6 535.6 L354 538 L352.2 540.2 L349.9 541.9 L348 544 L344.9 544.1 L341.9 544.7 L339.1 545.8 L336 546 L333.4 546.9 L330.7 546.7 L328 547 L327.6 549.6 L326.3 551.8 L325 554 L323.8 556.7 L321.5 558.5 L320 561 L318.6 559.1 L317.1 557.3 L315 556 L312.9 557.4 L310.2 557.7 L308 559 L304.9 559.8 L302 561 L301.8 563.8 L300.1 566.2 L300 569 L299.9 572.1 L301 575 L300.4 577.2 L299 579 L295.9 578.7 L293 579.8 L290 580 L287.5 580.5 L284.9 580.3 L282.4 581 L280 582 L277.5 583.8 L274.7 584.8 L272 586 L271.2 588.4 L270.7 590.9 L270.2 593.3 L269 595.6 L271.6 596.5 L273.9 598.1 L276.8 598.3 L279 600 L279.3 602.7 L279.7 605.3 L280 608 L283 608.7 L285.4 610.5 L288 612 L289.5 614.1 L291.3 616 L293 618 L295.1 619.6 L295.8 622.4 L298 624 L298.1 626.6 L298.4 629.1 L300 631.4 L300 634 L298.2 636.2 L296 638 L293.5 639.3 L290.6 639 L288 640 L286.9 642.2 L285.8 644.3 L284 646 L285.4 647.6 L286.2 649.7 L288 651 L286.6 652.8 L286 655 L284.2 656.3 L282.2 657.4 L280 658 L278.4 660.8 L278 664 L276.9 666.3 L275.7 668.6 L275 671 L271.9 671.1 L269 670 L267.7 671.8 L265.5 672.5 L264 674 L262.1 676.4 L260 678.6 L258 676.6 L257 674 L256.2 671.7 L254.5 669.9 L253 668 L251.7 665.1 L249.2 663 L248 660 L248 657.4 L246.4 655.1 L247 652.4 L246 650 L244.9 647.7 L243.8 645.4 L243 643 L242.1 640.9 L241.1 638.9 L240.7 636.7 L239.2 635 L239.6 632.7 L240.6 630.6 L238.6 629.8 L237.2 628.1 L235.3 626.9 L233.3 625.7 L231.9 627.4 L230.4 629 L228.4 630.1 L227.9 632.7 L226.5 635 L224.4 635.1 L222.6 634 L219.8 635.3 L216.7 635.9 L213.7 634.9 L210.8 633.5 L207.9 633.5 L205 633 L201.9 633.1 L199 634 L196.9 633.4 L195 632.3 L193 631.5 L190.8 632.6 L188.4 633 L186 633.5 L187.8 633.1 L189.3 634 L191.2 635.2 L192.7 636.9 L193.9 638.7 L193.7 640.8 L191.9 641.3 L190.3 642.3 L187.9 642 L185.4 641.8 L183.5 643.6 L181.2 644.8 L179.1 646.2 L176.7 644.2 L173.7 643.3 L172 645 L169.8 645.7 L167.2 646.3 L164.9 647.7 L163.9 650.6 L162 651.2 L160 651.6 L158 653 L155.5 653.8 L152.9 654.1 L150.5 655.4 L148 656 L145.3 657.3 L142.5 658.4 L140 660 L138.4 662.8 L138 666 L137.2 668.4 L135.6 670.5 L135 673 L134.4 675.3 L134.1 677.6 L134 680 L135.8 681.2 L137.5 682.5 L139 684 L141.7 684.4 L144 686 L142.9 688.3 L141.5 690.4 L139.2 691.8 L138 694 L137.3 697.1 L136 700 L133.6 702.1 L131 703.8 L128 705 L125.3 704.9 L122.6 705.2 L120 706 L117.8 708.2 L116.2 710.9 L114 713 L111.6 714.3 L109.1 715.3 L106.5 716.1 L104 717 L102.8 718.8 L101 720 L98.2 719.6 L95.4 719.3 L92.9 717.9 L90 718 L87.7 716.6 L85 716.4 L82.4 716.1 L80 715 L78.3 713.4 L75.9 713.2 L74 712 L72.1 713.5 L70.4 715.2 L68 716 L65.2 715.9 L62.5 715.5 L59.8 715.2 L57 715 L55.8 716.8 L54 718 L54 715.3 L53.3 712.7 L54 710 L53.2 707.1 L53 704 L53.5 701.7 L54.9 699.9 L56 698 L54.4 696.3 L53.4 694.3 L53 692 L54.8 689.8 L57 688 L55.7 686.2 L55.1 683.9 L54 682 L52.4 680 L50.9 677.8 L49 676 L48.5 673.3 L48 670.6 L47 668 L46.1 665.1 L44.2 662.7 L43 660 L41.1 658.4 L40 656 L37.4 655.1 L36 653 L33.8 651.4 L31.4 650.2 L29 649 L27.9 646.1 L28 643 L26.9 640.3 L25 638 L26.5 635.2 L27 632 L29.1 630.8 L31.2 629.6 L33 628 L33.4 625 L33 622 L35.1 620.5 L37.7 620 L40 619 L42.5 618.3 L45.1 617.9 L47.6 617.2 L50 616 L52.6 615.7 L55 614.6 L57.7 614.3 L60 613 L63 613.7 L66 614.2 L69 614.3 L72 615 L70.1 613 L68.9 610.6 L68 608 L65.9 605.8 L63.7 603.7 L62.2 601 L60 599 L58.4 596.5 L56.8 593.9 L55.1 591.4 L53.5 588.9 L51.7 586.5 L50 584 L48 581.9 L46.9 579.2 L45.2 576.9 L43.3 574.7 L41.7 572.3 L40 570 L38.5 567.5 L36.5 565.4 L35.4 562.7 L33.4 560.5 L32 558 L30 555.8 L28.7 553.2 L27.8 550.3 L26 548 L26.6 544.9 L28 542 L26.2 540.1 L24.4 538.2 L22 537 L23.3 535.3 L24.5 533.6 L26 532 L23.7 531.4 L21.4 530.4 L19 530 L19.2 527.3 L18.9 524.7 L18.6 522 L20.4 521.7 L22 521 L24.4 522.2 L26.3 524 L28 526 L30.2 527.4 L31.8 529.6 L34 531 L37 530.7 L40 531 L43 530.8 L46 530.1 L49 529.9 L52 530 L52.7 527.9 L54 526 L57 526.2 L60 526 L62.7 525.6 L65.4 524.9 L68 524 L67 521.4 L66.7 518.7 L66 516 L65.3 513.3 L64.6 510.7 L64 508 L62 507.1 L61 504.9 L59 504 L57.3 501.5 L56.9 498.4 L55 496 L54.4 493.3 L52.1 491.3 L51.6 488.6 L54.1 488.7 L56.5 489.3 L59 489 L61 488 L62 486 L63.9 483.9 L65.8 481.8 L68 480 L70.6 478.9 L73.5 479.3 L76 478 L77.7 475.4 L80.1 473.4 L82 471 L83.6 468.3 L86 466.4 L88 464 L88.1 461.4 L86.5 459.1 L86.9 456.4 L86 454 L85.3 451.3 L85.2 448.5 L84 446 L82.5 444.4 L80.4 443.6 L79 442 L80.5 439.5 L81 436.7 L82 434 L83.5 431.2 L85.5 428.9 L88 427 L89.3 424.7 L90.6 422.3 L92 420 L88.9 419.2 L85.9 418.3 L83 417.1 L80 416 L77 415.7 L74.1 414.7 L70.9 414.9 L68 414 L65.9 412 L63.6 410.3 L61 409 L61 406.4 L62 404 L64.4 402.8 L66.2 400.9 L68 399 L70.8 398 L72.8 395.7 L75.4 394.3 L78 393 L80.4 391.9 L83.3 391.6 L85.5 390.1 L88 389 L91 388.4 L94 387.9 L97 387.3 L100 387 L102.3 385.4 L104.8 384.5 L107.7 384.4 L110 383 L110.2 380.4 L111 378 L109.8 375 L107.7 372.6 L106.2 369.8 L104.8 366.9 L103 364.3 L101.6 361.5 L100.5 358.5 L98.9 355.7 L97.3 353 L95.6 350.3 L94 347.6 L101 348 L102.1 349.9 L104 351 L106.7 350.6 L109 349.1 L111.6 348.3 L114 347 L116.9 345.9 L120 346 L123.1 345.3 L126 344 L127.3 342 L129 340.2 L130 338 L131.5 335.4 L132.4 332.5 L134 330 L135.6 328.1 L138.3 327.8 L140 326 L142.2 324.5 L144.8 323.6 L147.1 322.3 L149.5 321 L152 320 L153.3 317.6 L154 315 L156.3 314.6 L157.8 312.7 L160 312 L162.9 313.2 L166 314 L167.9 316.2 L169.3 318.7 L171 321 L173.6 322.4 L176 324 L177.1 321.7 L178.6 319.7 L180.2 317.8 L182 316 L183.5 313.5 L184 310.7 L185 308 L183.1 307 L182 304.9 L180 304 L181.9 302.4 L182.6 300 L184 298 L185.6 295.3 L187.7 293.1 L190 291 L192.4 289.2 L195.2 288.1 L198 287 L199.6 284.6 L201.7 282.7 L204 281 L206.5 280.4 L209 280.6 L211.6 280.8 L214 280 L216.2 279 L217.9 277.2 L220 276 L223 275.5 L226 275.4 L229 275 L231.1 276.2 L233.1 277.5 L235 279 L237.4 277.1 L240.2 276.1 L243 275 L245.7 274.9 L247.8 273 L250.5 272.8 L253 272 L254.8 270.5 L256.7 269 L258 267 L258.6 264.8 L259.7 262.9 L261 261 L262.8 259.7 L264.9 258.9 L267 258 L267.3 255.3 L268.3 252.7 L268 250 L268.2 246.9 L267.9 243.9 L267 241 L268.2 239.1 L269.9 237.8 L272 237 L272.8 234 L273 231 L274.8 230.5 L276 229 L279 230 L281 231.6 L282.9 233.4 L285 235 L287.8 235 L290.4 236.2 L293 237 L295.2 237.9 L297.6 238.1 L300 238 L302.7 237.5 L305 236 L307.8 237.6 L311 238 L314.1 238.7 L317 240 L318.8 238.5 L320.8 237.6 L323 237 L326 238 L329 239 L330.5 240.5 L331.9 242.1 L334 243 L335.9 241.9 L337.5 240.5 L339 239 L341.2 238 L343 236.3 L345 235 L347 234.1 L348.7 232.4 L351 232 L353.4 232.1 L355.6 231 L358 231 L360.1 229 L361.5 226.5 L363 224 L363.7 220.9 L365 218 L366.2 215.4 L368.1 213.1 L370 211 L371.5 208.9 L373 206.7 L373.9 204.2 L375.3 202 L377 200 L378.5 198 L380 196 L381.7 194.8 L383.2 193.2 L385 192 L387.3 190.4 L390.1 189.6 L392.2 187.6 L395 187 L397.5 185.1 L400.3 183.6 L403 182 L406 180.9 L408.4 178.8 L411 177 L414 175.8 L416.3 173.6 L419 172 L421.6 171 L424.2 170.3 L427 170 L428.6 168.3 L429 166 L429.7 168.1 L431 170 L434 169.2 L437 169 L439.2 168.9 L441 170 L443.7 168.7 L446.4 167.6 L449 166 L447.6 163.4 L446 160.8 L445 158 L445.6 155.4 L446.3 152.7 L446 150"/>
<text class="tl" x="445.5" y="107">Stamford</text>
<text class="tl" x="557.5" y="177">Peterborough</text>
<text class="tl" x="340" y="253">Corby</text>
<text class="tl" x="461" y="258">Oundle</text>
<text class="tl" x="308" y="325.5">Kettering &amp;</text>
<text class="tl" x="291" y="335">Barton Seagrave</text>
<text class="tl" x="423" y="327.5">Thrapston</text>
<text class="tl" x="438" y="336.5">&amp; Islip</text>
<text class="tl" x="312" y="421">Wellingborough</text>
<text class="tl" x="402" y="418.5">Rushden &amp;</text>
<text class="tl" x="389" y="427.5">Higham Ferrers</text>
<text class="tl" x="222" y="464">Northampton</text>
<text class="tl" x="94" y="459">Daventry</text>
<text class="tl" x="175" y="578.5">Towcester</text>
<text class="tl" x="94.5" y="666.5">Brackley</text>
<path class="st" d="M479.8 108.7 L480.57 110.75 L482.75 110.84 L481.04 112.2 L481.62 114.31 L479.8 113.1 L477.98 114.31 L478.56 112.2 L476.85 110.84 L479.03 110.75Z"/>
<path class="st" d="M607.3 180.2 L608.07 182.25 L610.25 182.34 L608.54 183.7 L609.12 185.81 L607.3 184.6 L605.48 185.81 L606.06 183.7 L604.35 182.34 L606.53 182.25Z"/>
<path class="st" d="M363.4 255.3 L364.17 257.35 L366.35 257.44 L364.64 258.8 L365.22 260.91 L363.4 259.7 L361.58 260.91 L362.16 258.8 L360.45 257.44 L362.63 257.35Z"/>
<path class="st" d="M488.0 260.1 L488.77 262.15 L490.95 262.24 L489.24 263.6 L489.82 265.71 L488.0 264.5 L486.18 265.71 L486.76 263.6 L485.05 262.24 L487.23 262.15Z"/>
<path class="st" d="M351.4 336.9 L352.17 338.95 L354.35 339.04 L352.64 340.4 L353.22 342.51 L351.4 341.3 L349.58 342.51 L350.16 340.4 L348.45 339.04 L350.63 338.95Z"/>
<path class="st" d="M462.0 339.3 L462.77 341.35 L464.95 341.44 L463.24 342.8 L463.82 344.91 L462.0 343.7 L460.18 344.91 L460.76 342.8 L459.05 341.44 L461.23 341.35Z"/>
<path class="st" d="M368.6 422.9 L369.37 424.95 L371.55 425.04 L369.84 426.4 L370.42 428.51 L368.6 427.3 L366.78 428.51 L367.36 426.4 L365.65 425.04 L367.83 424.95Z"/>
<path class="st" d="M422.4 432.7 L423.17 434.75 L425.35 434.84 L423.64 436.2 L424.22 438.31 L422.4 437.1 L420.58 438.31 L421.16 436.2 L419.45 434.84 L421.63 434.75Z"/>
<path class="st" d="M269.0 466.9 L269.77 468.95 L271.95 469.04 L270.24 470.4 L270.82 472.51 L269.0 471.3 L267.18 472.51 L267.76 470.4 L266.05 469.04 L268.23 468.95Z"/>
<path class="st" d="M116.6 465.5 L117.37 467.55 L119.55 467.64 L117.84 469.0 L118.42 471.11 L116.6 469.9 L114.78 471.11 L115.36 469.0 L113.65 467.64 L115.83 467.55Z"/>
<path class="st" d="M213.0 581.1 L213.77 583.15 L215.95 583.24 L214.24 584.6 L214.82 586.71 L213.0 585.5 L211.18 586.71 L211.76 584.6 L210.05 583.24 L212.23 583.15Z"/>
<path class="st" d="M127.0 668.3 L127.77 670.35 L129.95 670.44 L128.24 671.8 L128.82 673.91 L127.0 672.7 L125.18 673.91 L125.76 671.8 L124.05 670.44 L126.23 670.35Z"/>
<path class="gd" d="M59.5 35V726"/>
<path class="gd" d="M139.5 35V726"/>
<path class="gd" d="M219.5 35V726"/>
<path class="gd" d="M299.5 35V726"/>
<path class="gd" d="M379.5 35V726"/>
<path class="gd" d="M539.5 35V726"/>
<path class="gd" d="M619.5 35V726"/>
<path class="gd" d="M3 89.5H673"/>
<path class="gd" d="M3 249.5H673"/>
<path class="gd" d="M3 329.5H673"/>
<path class="gd" d="M3 409.5H673"/>
<path class="gd" d="M3 489.5H673"/>
<path class="gd" d="M3 569.5H673"/>
<path class="gd" d="M3 649.5H673"/>
<rect x="459" y="34" width="2" height="692" fill="#000"/>
<rect x="4" y="169" width="669" height="2" fill="#000"/>
<rect x="364.0" y="202.0" width="15" height="16" fill="#00c3ff"/>
<rect x="348.0" y="298.0" width="15" height="16" fill="#00c3ff"/>
<rect x="460.0" y="282.0" width="15" height="16" fill="#00c3ff"/>
<circle cx="579.5" cy="161.5" r="6.7" fill="#ffff00"/>
<circle cx="435.5" cy="177.5" r="6.7" fill="#ffff00"/>
<circle cx="339.5" cy="529.5" r="6.7" fill="#ffff00"/>
<circle cx="339.5" cy="545.5" r="6.7" fill="#ffff00"/>
<circle cx="291.5" cy="561.5" r="6.7" fill="#ffff00"/>
<path fill="#f00" d="M461.0 160.0h13v4h-13zM466.0 155.0h3v13h-3z"/>
<path fill="#f00" d="M541.0 160.0h13v4h-13zM546.0 155.0h3v13h-3z"/>
<path fill="#f00" d="M557.0 160.0h13v4h-13zM562.0 155.0h3v13h-3z"/>
<path fill="#f00" d="M429.0 176.0h13v4h-13zM434.0 171.0h3v13h-3z"/>
<path fill="#f00" d="M445.0 176.0h13v4h-13zM450.0 171.0h3v13h-3z"/>
<path fill="#f00" d="M477.0 176.0h13v4h-13zM482.0 171.0h3v13h-3z"/>
<path fill="#f00" d="M493.0 176.0h13v4h-13zM498.0 171.0h3v13h-3z"/>
<path fill="#f00" d="M493.0 192.0h13v4h-13zM498.0 187.0h3v13h-3z"/>
<path fill="#f00" d="M461.0 224.0h13v4h-13zM466.0 219.0h3v13h-3z"/>
<path fill="#f00" d="M461.0 240.0h13v4h-13zM466.0 235.0h3v13h-3z"/>
<path fill="#f00" d="M477.0 240.0h13v4h-13zM482.0 235.0h3v13h-3z"/>
<path fill="#f00" d="M525.0 272.0h13v4h-13zM530.0 267.0h3v13h-3z"/>
<path fill="#f00" d="M301.0 272.0h13v4h-13zM306.0 267.0h3v13h-3z"/>
<path fill="#f00" d="M301.0 288.0h13v4h-13zM306.0 283.0h3v13h-3z"/>
<path fill="#f00" d="M413.0 272.0h13v4h-13zM418.0 267.0h3v13h-3z"/>
<path fill="#f00" d="M429.0 288.0h13v4h-13zM434.0 283.0h3v13h-3z"/>
<path fill="#f00" d="M445.0 304.0h13v4h-13zM450.0 299.0h3v13h-3z"/>
<path fill="#f00" d="M349.0 304.0h13v4h-13zM354.0 299.0h3v13h-3z"/>
<path fill="#f00" d="M349.0 320.0h13v4h-13zM354.0 315.0h3v13h-3z"/>
<path fill="#f00" d="M397.0 320.0h13v4h-13zM402.0 315.0h3v13h-3z"/>
<path fill="#f00" d="M445.0 336.0h13v4h-13zM450.0 331.0h3v13h-3z"/>
<path fill="#f00" d="M237.0 336.0h13v4h-13zM242.0 331.0h3v13h-3z"/>
<path fill="#f00" d="M253.0 336.0h13v4h-13zM258.0 331.0h3v13h-3z"/>
<path fill="#f00" d="M285.0 400.0h13v4h-13zM290.0 395.0h3v13h-3z"/>
<path fill="#f00" d="M429.0 416.0h13v4h-13zM434.0 411.0h3v13h-3z"/>
<path fill="#f00" d="M349.0 432.0h13v4h-13zM354.0 427.0h3v13h-3z"/>
<path fill="#f00" d="M381.0 432.0h13v4h-13zM386.0 427.0h3v13h-3z"/>
<path fill="#f00" d="M317.0 448.0h13v4h-13zM322.0 443.0h3v13h-3z"/>
<path fill="#f00" d="M269.0 464.0h13v4h-13zM274.0 459.0h3v13h-3z"/>
<path fill="#f00" d="M253.0 496.0h13v4h-13zM258.0 491.0h3v13h-3z"/>
<path fill="#f00" d="M317.0 512.0h13v4h-13zM322.0 507.0h3v13h-3z"/>
<path fill="#f00" d="M253.0 528.0h13v4h-13zM258.0 523.0h3v13h-3z"/>
<path fill="#f00" d="M301.0 528.0h13v4h-13zM306.0 523.0h3v13h-3z"/>
<path fill="#f00" d="M333.0 528.0h13v4h-13zM338.0 523.0h3v13h-3z"/>
<path fill="#f00" d="M349.0 528.0h13v4h-13zM354.0 523.0h3v13h-3z"/>
<path fill="#f00" d="M317.0 544.0h13v4h-13zM322.0 539.0h3v13h-3z"/>
<path fill="#f00" d="M333.0 544.0h13v4h-13zM338.0 539.0h3v13h-3z"/>
<path fill="#f00" d="M285.0 560.0h13v4h-13zM290.0 555.0h3v13h-3z"/>
<path fill="#f00" d="M173.0 608.0h13v4h-13zM178.0 603.0h3v13h-3z"/>
<path fill="#f00" d="M189.0 608.0h13v4h-13zM194.0 603.0h3v13h-3z"/>
<path fill="#f00" d="M61.0 640.0h13v4h-13zM66.0 635.0h3v13h-3z"/>
<path fill="#f00" d="M77.0 640.0h13v4h-13zM82.0 635.0h3v13h-3z"/>
<path fill="#f00" d="M125.0 656.0h13v4h-13zM130.0 651.0h3v13h-3z"/>
<text class="rl" x="10.3" y="56.4">SK</text>
<text class="rl" x="462.4" y="56.7">TF</text>
<text class="rl" x="10" y="674.6">SP</text>
<text class="rl" x="466" y="673">TL</text>
<text class="nl" x="12" y="83">1</text>
<text class="nl" x="12" y="163">0</text>
<text class="nl" x="12" y="243.3">9</text>
<text class="nl" x="12" y="323">8</text>
<text class="nl" x="12" y="403">7</text>
<text class="nl" x="12" y="483">6</text>
<text class="nl" x="12" y="563">5</text>
<text class="nl" x="12" y="643">4</text>
<text class="nl" x="68" y="719.3">5</text>
<text class="nl" x="148" y="719.3">6</text>
<text class="nl" x="228" y="719.3">7</text>
<text class="nl" x="308" y="719.3">8</text>
<text class="nl" x="388" y="719.3">9</text>
<text class="nl" x="468" y="719.3">0</text>
<text class="nl" x="548" y="719.3">1</text>
<text class="nl" x="628" y="719.3">2</text>
<rect x="3" y="33" width="671" height="694" fill="none" stroke="#000" stroke-width="2"/>
<rect x="682.5" y="409.5" width="438" height="318" fill="none" stroke="#000" stroke-width="1"/>
<rect x="683" y="690" width="437" height="1" fill="#000"/>
<rect x="718" y="690" width="1" height="8" fill="#000"/>
<rect x="755" y="690" width="1" height="8" fill="#000"/>
<rect x="791" y="690" width="1" height="8" fill="#000"/>
<rect x="828" y="690" width="1" height="8" fill="#000"/>
<rect x="864" y="690" width="1" height="8" fill="#000"/>
<rect x="901" y="690" width="1" height="8" fill="#000"/>
<rect x="937" y="690" width="1" height="8" fill="#000"/>
<rect x="974" y="690" width="1" height="8" fill="#000"/>
<rect x="1010" y="690" width="1" height="8" fill="#000"/>
<rect x="1047" y="690" width="1" height="8" fill="#000"/>
<rect x="1083" y="690" width="1" height="8" fill="#000"/>
<text class="mo" x="701.5" y="709.5" text-anchor="middle">Jan</text>
<text class="mo" x="738.0" y="709.5" text-anchor="middle">Feb</text>
<text class="mo" x="774.5" y="709.5" text-anchor="middle">Mar</text>
<text class="mo" x="811.0" y="709.5" text-anchor="middle">Apr</text>
<text class="mo" x="847.5" y="709.5" text-anchor="middle">May</text>
<text class="mo" x="884.0" y="709.5" text-anchor="middle">Jun</text>
<text class="mo" x="920.5" y="709.5" text-anchor="middle">Jly</text>
<text class="mo" x="957.0" y="709.5" text-anchor="middle">Aug</text>
<text class="mo" x="993.5" y="709.5" text-anchor="middle">Sep</text>
<text class="mo" x="1030.0" y="709.5" text-anchor="middle">Oct</text>
<text class="mo" x="1066.5" y="709.5" text-anchor="middle">Nov</text>
<text class="mo" x="1103.0" y="709.5" text-anchor="middle">Dec</text>
<rect x="825.5" y="679.5" width="9" height="11" fill="#fff" stroke="#000" stroke-width="1"/>
<rect x="834.5" y="667.5" width="8" height="23" fill="#fff" stroke="#000" stroke-width="1"/>
<rect x="842.5" y="679.5" width="8" height="11" fill="#fff" stroke="#000" stroke-width="1"/>
<rect x="850.5" y="644.5" width="9" height="46" fill="#fff" stroke="#000" stroke-width="1"/>
<rect x="859.5" y="484.5" width="8" height="206" fill="#fff" stroke="#000" stroke-width="1"/>
<rect x="867.5" y="495.5" width="9" height="195" fill="#fff" stroke="#000" stroke-width="1"/>
<rect x="876.5" y="449.5" width="8" height="241" fill="#fff" stroke="#000" stroke-width="1"/>
<rect x="884.5" y="518.5" width="9" height="172" fill="#fff" stroke="#000" stroke-width="1"/>
<rect x="893.5" y="656.5" width="8" height="34" fill="#fff" stroke="#000" stroke-width="1"/>
<rect x="901.5" y="656.5" width="8" height="34" fill="#fff" stroke="#000" stroke-width="1"/>
<rect x="909.5" y="656.5" width="9" height="34" fill="#fff" stroke="#000" stroke-width="1"/>
<rect x="918.5" y="679.5" width="8" height="11" fill="#fff" stroke="#000" stroke-width="1"/>
<rect x="935.5" y="656.5" width="8" height="34" fill="#fff" stroke="#000" stroke-width="1"/>
<rect x="943.5" y="679.5" width="9" height="11" fill="#fff" stroke="#000" stroke-width="1"/>
<rect x="952.5" y="679.5" width="8" height="11" fill="#fff" stroke="#000" stroke-width="1"/>
<rect x="960.5" y="679.5" width="8" height="11" fill="#fff" stroke="#000" stroke-width="1"/>
<text class="mo" x="691" y="425.7">Records max of 21 in week 24</text>
</svg>
<div class="t" style="left:2.6px;top:1.6px;font-size:24px;">20.018 Argyresthia spinosella (a moth)</div>
<div class="t" style="left:679px;top:35.9px;font-size:34.67px;">Key:</div>
<div class="t" style="left:687px;top:80px;width:13px;height:13px;background:#00c3ff;"></div>
<div class="t" style="left:687.7px;top:110px;width:13.5px;height:13.5px;border-radius:50%;background:#ffff00;"></div>
<svg width="14" height="14" style="left:688px;top:139px;"><path fill="#e8000d" d="M0 5h13v3h-13zM5 0h3v13h-3z"/></svg>
<div class="t" style="left:710px;top:75px;font-size:21.33px;letter-spacing:-0.06px;">Records Prior to 1980</div>
<div class="t" style="left:710px;top:104px;font-size:21.33px;">Records 1980 - 1999</div>
<div class="t" style="left:710px;top:134px;font-size:21.33px;letter-spacing:-0.17px;">Records Since 2000</div>
<div class="t" style="left:682px;top:174.5px;font-size:34.67px;">Useful Data:</div>
<div class="t" style="left:682px;top:214px;font-size:21.33px;letter-spacing:-0.13px;">First Recorded in 1909</div>
<div class="t" style="left:682px;top:241px;font-size:21.33px;letter-spacing:-0.24px;">Last Recorded in 2023</div>
<div class="t" style="left:683px;top:268px;font-size:21.33px;letter-spacing:-0.08px;">95 Records</div>
<div class="t" style="left:683px;top:296px;font-size:21.33px;letter-spacing:-0.06px;">Status: Common</div>
<div class="t" style="left:683px;top:367.7px;font-size:34.67px;">Flight Period:</div>
</body></html>
